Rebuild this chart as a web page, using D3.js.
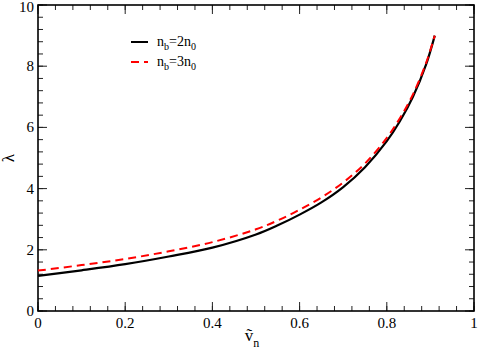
<!DOCTYPE html>
<html>
<head>
<meta charset="utf-8">
<script src="https://cdnjs.cloudflare.com/ajax/libs/d3/7.8.5/d3.min.js"></script>
<style>
  body { margin: 0; background: #fff; }
  text { font-family: "Liberation Serif", "DejaVu Serif", serif; }
</style>
</head>
<body>
<div id="graph"></div>
<script>
// values
var vn = [0, 0.1, 0.2, 0.3, 0.4, 0.5, 0.55, 0.6, 0.65, 0.7, 0.75, 0.8, 0.83, 0.86, 0.89, 0.91];
var lambda2 = [1.15, 1.33, 1.53, 1.78, 2.07, 2.5, 2.8, 3.15, 3.55, 4.05, 4.7, 5.55, 6.2, 7.0, 8.05, 9.0];
var lambda3 = [1.32, 1.5, 1.7, 1.95, 2.25, 2.67, 2.96, 3.31, 3.71, 4.2, 4.82, 5.66, 6.3, 7.08, 8.1, 9.0];
var xTicks = [0, 0.2, 0.4, 0.6, 0.8, 1];
var xTickLabels = ["0", "0.2", "0.4", "0.6", "0.8", "1"];
var yTicks = [0, 2, 4, 6, 8, 10];
var legendLabels = [["n", "b", "=2n", "0"], ["n", "b", "=3n", "0"]];

var width = 479, height = 355;
var margin = {top: 5, right: 5, bottom: 44, left: 38};
var w = width - margin.left - margin.right,
  h = height - margin.top - margin.bottom;

var x = d3.scaleLinear().domain([0, 1]).range([0, w]);
var y = d3.scaleLinear().domain([0, 10]).range([h, 0]);

var svg = d3.select("#graph")
  .append("svg")
  .attr("width", width)
  .attr("height", height)
  .append("g")
  .attr("transform", "translate(" + margin.left + "," + margin.top + ")");

// minor and major ticks, inward, on all four sides
var xMinor = d3.range(0, 1.0001, 0.04);
var yMinor = d3.range(0, 10.001, 0.4);

function tickSet(vals, len, horizontal) {
  vals.forEach(function (v) {
    if (horizontal) {
      svg.append("line").attr("x1", x(v)).attr("x2", x(v)).attr("y1", h).attr("y2", h - len);
      svg.append("line").attr("x1", x(v)).attr("x2", x(v)).attr("y1", 0).attr("y2", len);
    } else {
      svg.append("line").attr("x1", 0).attr("x2", len).attr("y1", y(v)).attr("y2", y(v));
      svg.append("line").attr("x1", w).attr("x2", w - len).attr("y1", y(v)).attr("y2", y(v));
    }
  });
}
tickSet(xMinor, 5, true);
tickSet(yMinor, 5, false);
tickSet(xTicks, 9, true);
tickSet(yTicks, 9, false);
svg.selectAll("line").attr("stroke", "#222").attr("stroke-width", 1);

// frame
svg.append("rect")
  .attr("width", w)
  .attr("height", h)
  .attr("fill", "none")
  .attr("stroke", "#000")
  .attr("stroke-width", 1.6);

// tick labels
svg.selectAll(".xlab")
  .data(xTicks)
  .enter()
  .append("text")
  .attr("x", function (d) { return x(d); })
  .attr("y", h + 17)
  .attr("text-anchor", "middle")
  .attr("font-size", 15)
  .text(function (d, i) { return xTickLabels[i]; });

svg.selectAll(".ylab")
  .data(yTicks)
  .enter()
  .append("text")
  .attr("x", -4)
  .attr("y", function (d) { return Math.max(y(d) + 5, 7); })
  .attr("text-anchor", "end")
  .attr("font-size", 15)
  .text(function (d) { return d; });

// axis titles
svg.append("text")
  .attr("x", 214)
  .attr("y", 336)
  .attr("font-size", 17)
  .attr("text-anchor", "middle")
  .html('<tspan>ṽ</tspan><tspan font-size="12" dy="6">n</tspan>');

svg.append("text")
  .attr("transform", "translate(-24," + (y(5)) + ") rotate(-90)")
  .attr("text-anchor", "middle")
  .attr("font-size", 17)
  .text("λ");

// curves
var line = function (vals) {
  return d3.line()
    .x(function (d, i) { return x(vn[i]); })
    .y(function (d) { return y(d); })
    .curve(d3.curveCatmullRom.alpha(0.5))(vals);
};

svg.append("path")
  .attr("d", line(lambda2))
  .attr("fill", "none")
  .attr("stroke", "#000")
  .attr("stroke-width", 2.2);

svg.append("path")
  .attr("d", line(lambda3))
  .attr("fill", "none")
  .attr("stroke", "#ff0000")
  .attr("stroke-width", 2)
  .attr("stroke-dasharray", "8,5");

// legend
var legend = svg.append("g").attr("transform", "translate(93,37)");
[{color: "#000", dash: null}, {color: "#ff0000", dash: "8,5"}].forEach(function (s, i) {
  legend.append("line")
    .attr("x1", 0).attr("x2", 17)
    .attr("y1", i * 20).attr("y2", i * 20)
    .attr("stroke", s.color)
    .attr("stroke-width", 2)
    .attr("stroke-dasharray", s.dash);
  var t = legend.append("text")
    .attr("x", 26)
    .attr("y", i * 20 + 4)
    .attr("font-size", 14);
  var p = legendLabels[i];
  t.append("tspan").text(p[0]);
  t.append("tspan").attr("font-size", 10).attr("dy", 4).text(p[1]);
  t.append("tspan").attr("dy", -4).text(p[2]);
  t.append("tspan").attr("font-size", 10).attr("dy", 4).text(p[3]);
});
</script>
</body>
</html>
